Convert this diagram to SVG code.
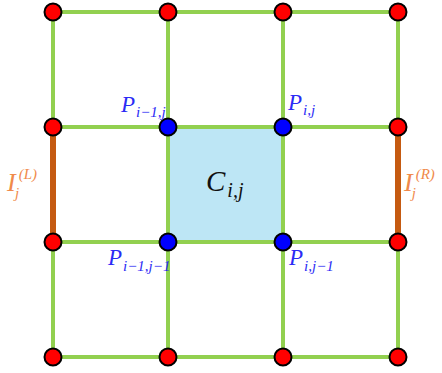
<svg xmlns="http://www.w3.org/2000/svg" width="442" height="373" viewBox="0 0 442 373">
<style>
.g{stroke:#92d050;stroke-width:4;fill:none;stroke-linecap:round}
.o{stroke:#c55a11;stroke-width:6;fill:none}
.r{fill:#ff0000;stroke:#000;stroke-width:2}
.b{fill:#0000ff;stroke:#000;stroke-width:2}
text{font-family:"Liberation Serif","Times New Roman",serif;font-style:italic}
.pl{fill:#2b2bf5;font-size:23px}
.sub{font-size:15px}
.il{fill:#f08a4b;font-size:26px}
</style>
<rect id="cell" x="168" y="127" width="115" height="115" fill="#bde6f5"/>
<g id="connectors">
<path class="g" d="M53 12H398M53 127H398M53 242H398M53 357H398M53 12V127M53 242V357M168 12V357M283 12V357M398 12V127M398 242V357"/>
<path class="o" d="M53 127V242M398 127V242"/>
</g>
<g id="nodes">
<circle class="r" cx="53" cy="12" r="8.5"/><circle class="r" cx="168" cy="12" r="8.5"/><circle class="r" cx="283" cy="12" r="8.5"/><circle class="r" cx="398" cy="12" r="8.5"/>
<circle class="r" cx="53" cy="127" r="8.5"/><circle class="b" cx="168" cy="127" r="8.5"/><circle class="b" cx="283" cy="127" r="8.5"/><circle class="r" cx="398" cy="127" r="8.5"/>
<circle class="r" cx="53" cy="242" r="8.5"/><circle class="b" cx="168" cy="242" r="8.5"/><circle class="b" cx="283" cy="242" r="8.5"/><circle class="r" cx="398" cy="242" r="8.5"/>
<circle class="r" cx="53" cy="357" r="8.5"/><circle class="r" cx="168" cy="357" r="8.5"/><circle class="r" cx="283" cy="357" r="8.5"/><circle class="r" cx="398" cy="357" r="8.5"/>
</g>
<g id="labels">
<text class="pl" x="121" y="112">P<tspan class="sub" dx="1" dy="5">i−1,j</tspan></text>
<text class="pl" x="288" y="110">P<tspan class="sub" dx="1" dy="5">i,j</tspan></text>
<text class="pl" x="108" y="265">P<tspan class="sub" dx="1" dy="6">i−1,j−1</tspan></text>
<text class="pl" x="289" y="265">P<tspan class="sub" dx="1" dy="6">i,j−1</tspan></text>
<text x="206" y="191" font-size="29" fill="#111">C<tspan font-size="20" dx="2" dy="6">i,j</tspan></text>
<text class="il" x="7" y="191">I<tspan class="sub" dx="3" dy="-12">(L)</tspan><tspan class="sub" dx="-22" dy="19">j</tspan></text>
<text class="il" x="404" y="191">I<tspan class="sub" dx="3" dy="-12">(R)</tspan><tspan class="sub" dx="-23" dy="19">j</tspan></text>
</g>
</svg>
